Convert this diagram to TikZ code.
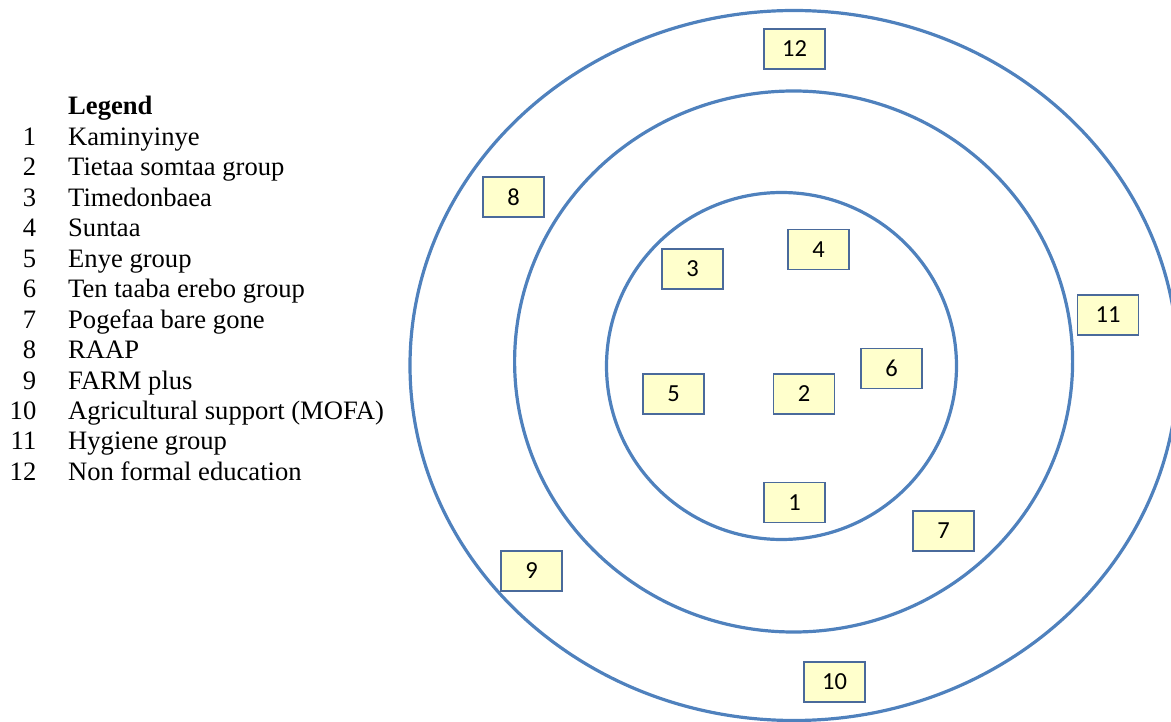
\documentclass[tikz,border=0pt]{standalone}
\usepackage{fontspec}
\setmainfont{Liberation Serif}
\newfontfamily\numfont{Carlito}
\definecolor{ringblue}{HTML}{4F81BD}
\definecolor{boxedge}{HTML}{4A6A9B}
\definecolor{boxfill}{HTML}{FFFFCC}
\begin{document}
\begin{tikzpicture}[x=1pt,y=-1pt,
  ring/.style={draw=ringblue,line width=3.2pt},
  numbox/.style={draw=boxedge,fill=boxfill,line width=1.3pt,minimum width=61pt,minimum height=40pt,inner sep=0pt,font=\numfont\fontsize{24.5}{27}\selectfont},
  legnum/.style={anchor=base east,inner sep=0pt,font=\fontsize{26.6}{30}\selectfont},
  legtxt/.style={anchor=base west,inner sep=0pt,font=\fontsize{26.6}{30}\selectfont}]
\useasboundingbox (0,0) rectangle (1171,722);
% rings
\draw[ring] (794,365.5) ellipse [x radius=384pt, y radius=355pt];
\draw[ring] (793.6,361.5) ellipse [x radius=279pt, y radius=270.5pt];
\draw[ring] (781.5,366) ellipse [x radius=175pt, y radius=173.5pt];
% boxes
\node[numbox] (b1) at (794.5,502.5) {1};
\node[numbox] (b2) at (804,394) {2};
\node[numbox] (b3) at (692.5,269) {3};
\node[numbox] (b4) at (818.5,249.5) {4};
\node[numbox] (b5) at (673.5,394) {5};
\node[numbox] (b6) at (891.5,368.5) {6};
\node[numbox] (b7) at (943.5,531) {7};
\node[numbox] (b8) at (513.5,197) {8};
\node[numbox] (b9) at (531.5,571) {9};
\node[numbox] (b10) at (834.5,682) {10};
\node[numbox] (b11) at (1108,315) {11};
\node[numbox] (b12) at (794.5,49) {12};
% legend
\node[legtxt,font=\bfseries\fontsize{26.6}{30}\selectfont] (lg) at (68,115) {Legend};
\node[legnum] (n1) at (36.5,145.45) {1};
\node[legtxt] (t1) at (68,145.45) {Kaminyinye};
\node[legnum] (n2) at (36.5,175.9) {2};
\node[legtxt] (t2) at (68,175.9) {Tietaa somtaa group};
\node[legnum] (n3) at (36.5,206.35) {3};
\node[legtxt] (t3) at (68,206.35) {Timedonbaea};
\node[legnum] (n4) at (36.5,236.8) {4};
\node[legtxt] (t4) at (68,236.8) {Suntaa};
\node[legnum] (n5) at (36.5,267.25) {5};
\node[legtxt] (t5) at (68,267.25) {Enye group};
\node[legnum] (n6) at (36.5,297.7) {6};
\node[legtxt] (t6) at (68,297.7) {Ten taaba erebo group};
\node[legnum] (n7) at (36.5,328.15) {7};
\node[legtxt] (t7) at (68,328.15) {Pogefaa bare gone};
\node[legnum] (n8) at (36.5,358.6) {8};
\node[legtxt] (t8) at (68,358.6) {RAAP};
\node[legnum] (n9) at (36.5,389.05) {9};
\node[legtxt] (t9) at (68,389.05) {FARM plus};
\node[legnum] (n10) at (36.5,419.5) {10};
\node[legtxt] (t10) at (68,419.5) {Agricultural support (MOFA)};
\node[legnum] (n11) at (36.5,449.95) {11};
\node[legtxt] (t11) at (68,449.95) {Hygiene group};
\node[legnum] (n12) at (36.5,480.4) {12};
\node[legtxt] (t12) at (68,480.4) {Non formal education};
\end{tikzpicture}
\end{document}
